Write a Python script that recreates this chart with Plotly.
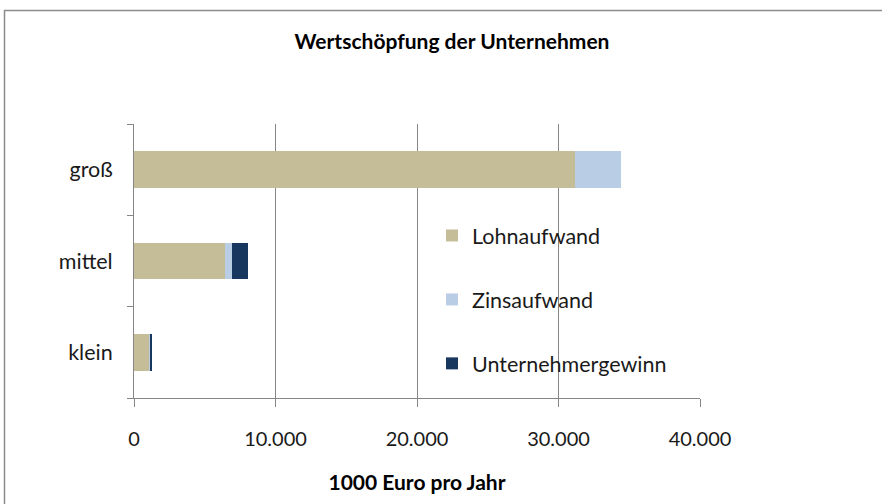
import plotly.graph_objects as go

# Unternehmensgrößen (Kategorien) und Komponenten der Wertschöpfung, 1000 Euro pro Jahr
categories = ["groß", "mittel", "klein"]
lohnaufwand = [31200, 6450, 1080]
zinsaufwand = [3200, 450, 20]
unternehmergewinn = [0, 1150, 170]

series_names = ["Lohnaufwand", "Zinsaufwand", "Unternehmergewinn"]
series_values = [lohnaufwand, zinsaufwand, unternehmergewinn]
series_colors = ["#C4BD97", "#B9CDE5", "#17375E"]

x_ticks = [0, 10000, 20000, 30000, 40000]

FONT = "Lato, 'Open Sans', sans-serif"
GRAY = "#868686"

fig = go.Figure()
for name, vals, col in zip(series_names, series_values, series_colors):
    fig.add_trace(go.Bar(
        y=categories, x=vals, name=name, orientation="h",
        marker=dict(color=col, line=dict(width=0)),
        legendgroup=name, width=0.4,
    ))

W, H = 882, 504
L, R, T, B = 134, 182, 124, 106
plot_w = W - L - R
plot_h = H - T - B

fig.update_layout(
    width=W, height=H,
    margin=dict(l=L, r=R, t=T, b=B, autoexpand=False),
    barmode="stack",
    separators=",.",
    paper_bgcolor="white", plot_bgcolor="white",
    font=dict(family=FONT, size=18, color="#1a1a1a"),
    title=dict(text="<b>Wertschöpfung der Unternehmen</b>",
               font=dict(family=FONT, size=21, color="#000000"),
               xref="paper", x=(452 - L) / plot_w, xanchor="center",
               yref="container", y=1 - 42 / H, yanchor="middle"),
    legend=dict(x=(432 - L) / plot_w, xanchor="left",
                y=(H - B - 215) / plot_h, yanchor="top",
                bgcolor="rgba(0,0,0,0)", traceorder="grouped",
                tracegroupgap=33, itemwidth=30,
                font=dict(family=FONT, size=21.5, color="#1a1a1a")),
    showlegend=True,
)

fig.update_xaxes(
    range=[0, 40000], tickvals=x_ticks, tickformat=",d",
    showgrid=True, gridcolor=GRAY, gridwidth=1,
    zeroline=False, showline=True, linecolor=GRAY, linewidth=1,
    ticks="outside", ticklen=8, tickcolor=GRAY,
    ticklabelstandoff=15,
    tickfont=dict(family=FONT, size=20, color="#1a1a1a"),
    title=dict(text="<b>1000 Euro pro Jahr</b>", standoff=26,
               font=dict(family=FONT, size=21, color="#000000")),
    fixedrange=True,
)
fig.update_yaxes(
    type="category", categoryorder="array", categoryarray=categories[::-1],
    showgrid=False, zeroline=False, showline=True, linecolor=GRAY, linewidth=1,
    ticks="outside", ticklen=6, tickcolor=GRAY, tickson="boundaries",
    ticklabelstandoff=16,
    tickfont=dict(family=FONT, size=21.5, color="#1a1a1a"),
    fixedrange=True,
)

# Rahmen des Diagrammbereichs
fig.add_shape(type="rect", xref="paper", yref="paper",
              x0=(4.5 - L) / plot_w, x1=(W + 20 - L) / plot_w,
              y0=(H - B - (H + 20)) / plot_h, y1=(H - B - 10.5) / plot_h,
              line=dict(color="#8c8c8c", width=1.5), fillcolor="rgba(0,0,0,0)",
              layer="below")

fig.write_html("out.html", config={"displayModeBar": False})
